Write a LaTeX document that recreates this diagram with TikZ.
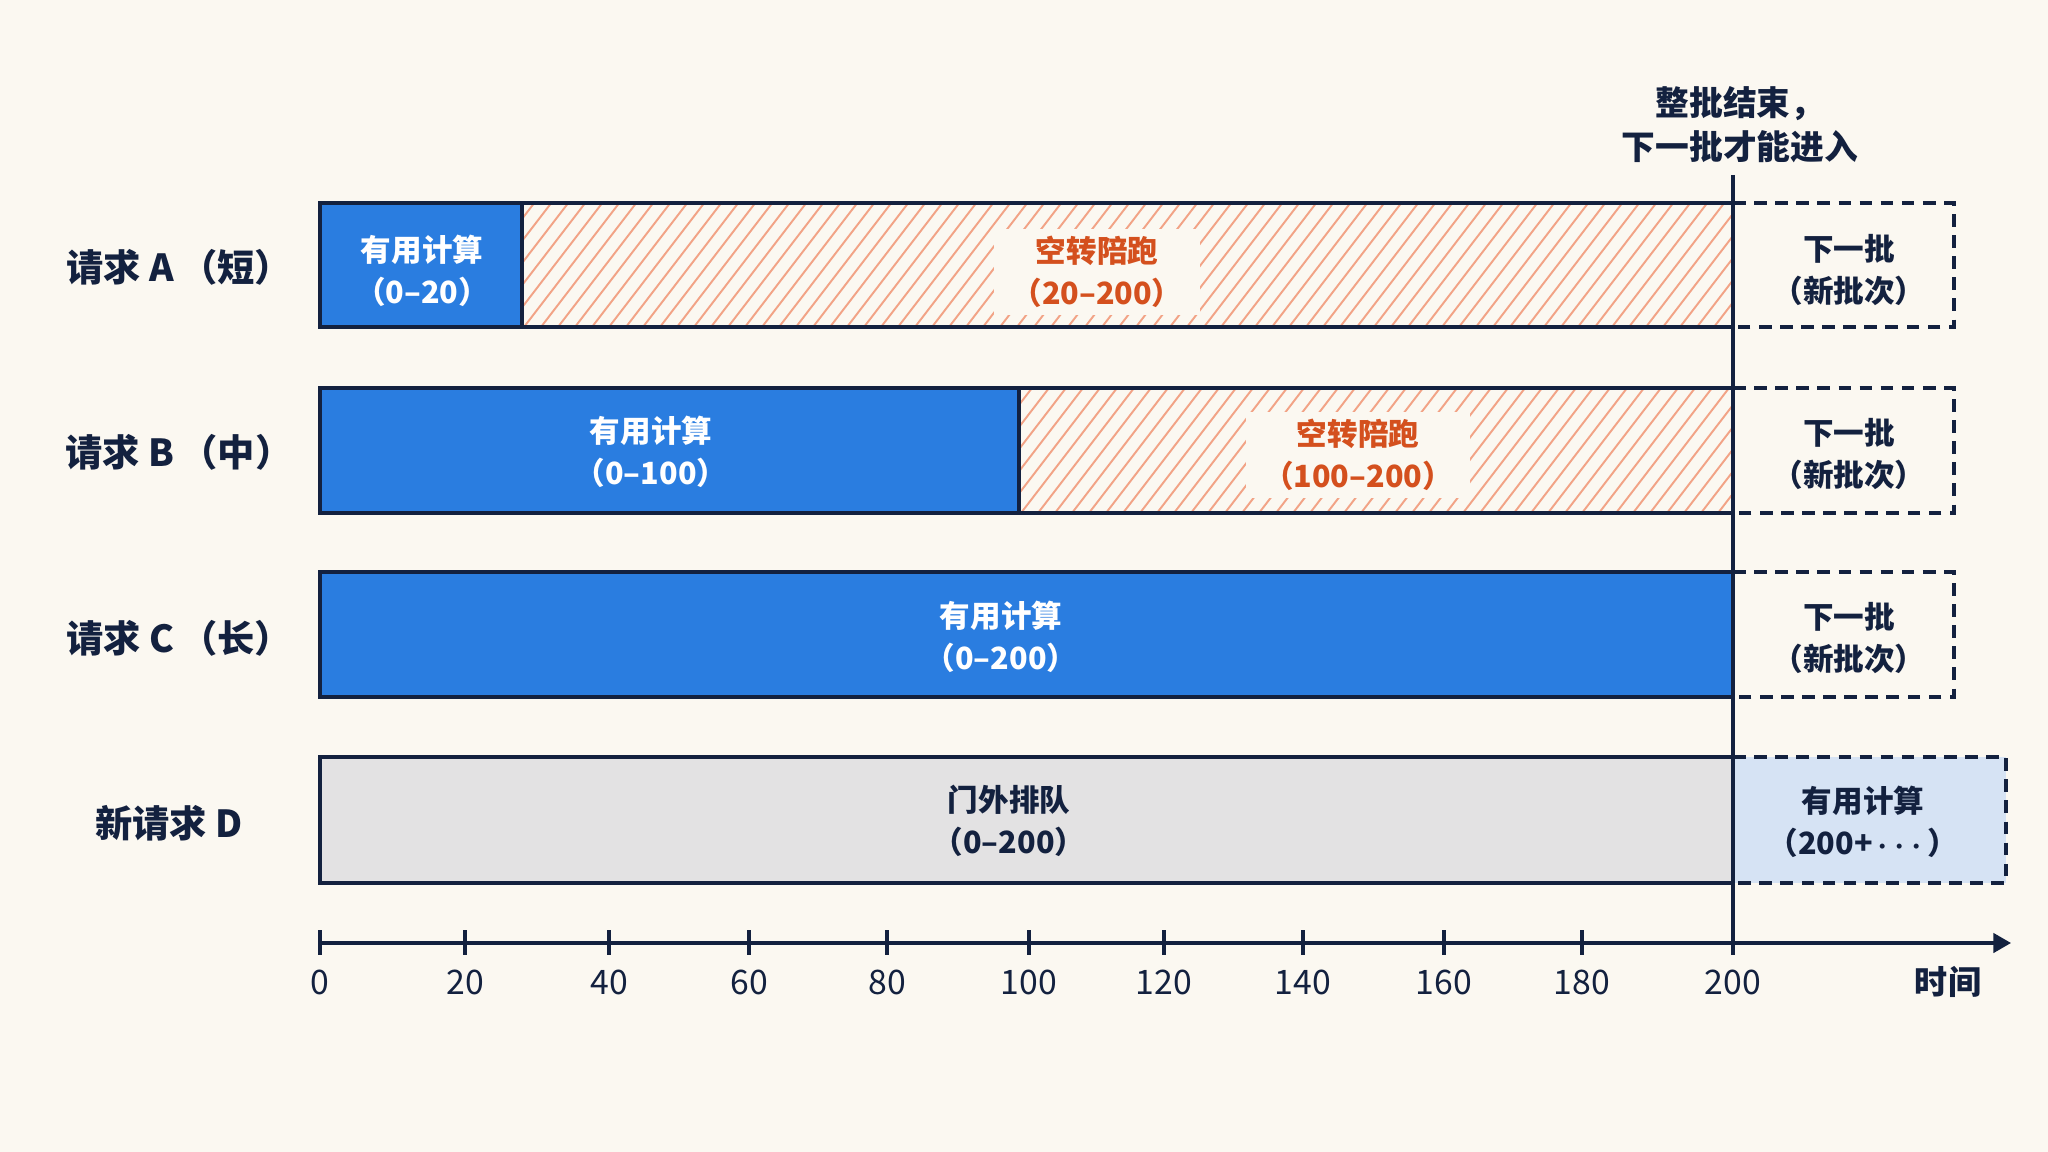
\documentclass[tikz,border=0pt]{standalone}
\usepackage{amsmath}
\usepackage{fontspec}
\setmainfont{Noto Sans CJK SC}
\usepackage{tikz}
\usetikzlibrary{arrows.meta,positioning}
\usepackage{xcolor}
\definecolor{bg}{HTML}{FBF8F1}
\definecolor{navy}{HTML}{13213F}
\definecolor{useblue}{HTML}{2A7DE0}
\definecolor{idleorange}{HTML}{D4501E}
\definecolor{hatchc}{HTML}{F2A386}
\definecolor{waitgray}{HTML}{E3E2E3}
\definecolor{nextblue}{HTML}{D6E3F4}

\begin{document}
\begin{tikzpicture}[x=0.01cm,y=-0.01cm,
	bar/.style={draw=navy,line width=0.9pt},
	nextbox/.style={draw=navy,line width=0.9pt,dash pattern=on 3.6pt off 2.4pt},
	hatchline/.style={draw=hatchc,line width=0.55pt},
	rowlabel/.style={text=navy,font=\bfseries\fontsize{10.6}{12}\selectfont},
	usetxt/.style={text=white,align=center,font=\bfseries\fontsize{8.7}{12}\selectfont},
	idletxt/.style={text=idleorange,align=center,font=\bfseries\fontsize{8.7}{12}\selectfont,fill=bg,inner xsep=0.17cm,inner ysep=0.07cm},
	darktxt/.style={text=navy,align=center,font=\bfseries\fontsize{8.7}{12}\selectfont},
	ticklabel/.style={text=navy,font=\fontsize{9.6}{11}\selectfont}]
	\fill[bg] (0,0) rectangle (2048,1152);
	\useasboundingbox (0,0) rectangle (2048,1152);

	\begin{scope}
		\clip (522,203) rectangle (1733,327);
		\foreach \i in {0,...,78} \draw[hatchline] (422+\i*17,327) -- ++(96,-125);
	\end{scope}
	\begin{scope}
		\clip (1019,388) rectangle (1733,513);
		\foreach \i in {0,...,48} \draw[hatchline] (919+\i*17,513) -- ++(96,-125);
	\end{scope}

	\filldraw[bar,fill=useblue] (320,203) rectangle (522,327);
	\draw[bar] (522,203) rectangle (1733,327);
	\filldraw[bar,fill=useblue] (320,388) rectangle (1019,513);
	\draw[bar] (1019,388) rectangle (1733,513);
	\filldraw[bar,fill=useblue] (320,572) rectangle (1733,697);
	\filldraw[bar,fill=waitgray] (320,757) rectangle (1733,883);
	\fill[nextblue] (1733,757) rectangle (2006,883);

	\draw[nextbox] (1733,203) -- (1954,203) -- (1954,327) -- (1733,327);
	\draw[nextbox] (1733,388) -- (1954,388) -- (1954,513) -- (1733,513);
	\draw[nextbox] (1733,572) -- (1954,572) -- (1954,697) -- (1733,697);
	\draw[nextbox] (1733,757) -- (2006,757) -- (2006,883) -- (1733,883);

	\node[rowlabel] (reqA) at (179,267) {请求 A\,（短）};
	\node[rowlabel] (reqB) at (179,452) {请求 B\,（中）};
	\node[rowlabel] (reqC) at (179,638) {请求 C\,（长）};
	\node[rowlabel] (reqD) at (169,823) {新请求 D};

	\node[usetxt] (aUse) at (422,271) {有用计算\\（0–20）};
	\node[idletxt] (aIdle) at (1097,272) {空转陪跑\\（20–200）};
	\node[darktxt] (aNext) at (1849,270) {下一批\\（新批次）};
	\node[usetxt] (bUse) at (651,452) {有用计算\\（0–100）};
	\node[idletxt] (bIdle) at (1358,455) {空转陪跑\\（100–200）};
	\node[darktxt] (bNext) at (1849,454) {下一批\\（新批次）};
	\node[usetxt] (cUse) at (1001,637) {有用计算\\（0–200）};
	\node[darktxt] (cNext) at (1849,638) {下一批\\（新批次）};
	\node[darktxt] (dWait) at (1009,821) {门外排队\\（0–200）};
	\node[darktxt] (dUse) at (1863,822) {有用计算\\（200+\,$\boldsymbol{\cdots}$）};

	\node[darktxt,font=\bfseries\fontsize{9.6}{12.5}\selectfont] (batchEnd) at (1740,125) {整批结束，\\下一批才能进入};

	\coordinate (axStart) at (320,943);
	\coordinate (axEnd) at (2011,943);
	\draw[navy,line width=0.9pt,-{Triangle[length=5pt,width=5.5pt]}] (axStart) -- (axEnd);
	\foreach \t/\x in {0/320,20/465,40/609,60/749,80/887,100/1029,120/1164,140/1303,160/1444,180/1582,200/1733}{
		\draw[navy,line width=0.9pt] (\x,930) -- (\x,955);
		\node[ticklabel] (tick\t) at (\x,982) {\t};
	}
	\node[darktxt,font=\bfseries\fontsize{9.4}{11}\selectfont] (timeLabel) at (1948,982) {时间};

	\coordinate (batchTop) at (1733,175);
	\coordinate (batchBot) at (1733,955);
	\draw[navy,line width=1pt] (batchTop) -- (batchBot);
\end{tikzpicture}
\end{document}
